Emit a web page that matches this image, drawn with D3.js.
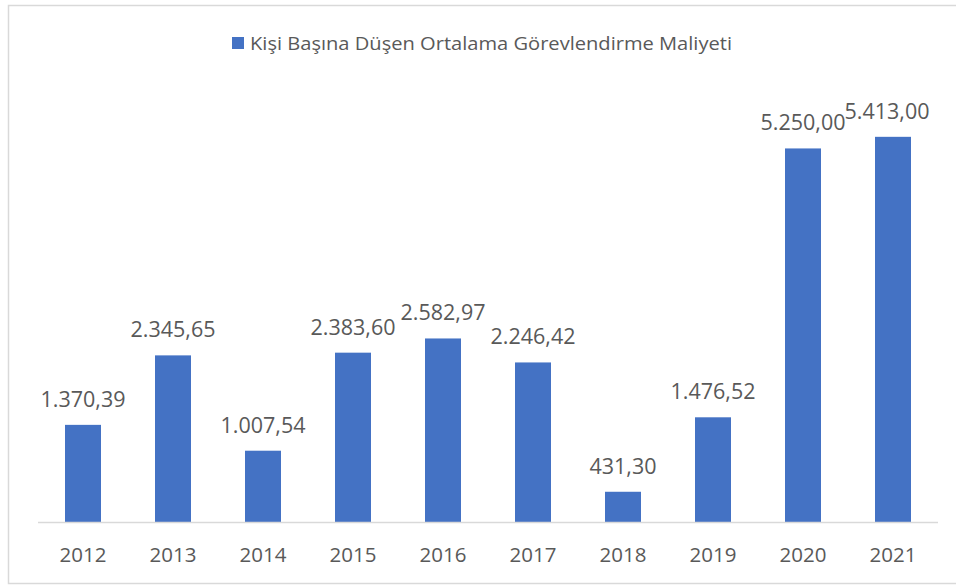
<!DOCTYPE html>
<html><head><meta charset="utf-8">
<script src="https://cdn.jsdelivr.net/npm/d3@7"></script>
<style>html,body{margin:0;padding:0;background:#fff;overflow:hidden}</style>
</head><body>
<svg id="c" width="956" height="586"></svg>
<script>
const categories = ["2012","2013","2014","2015","2016","2017","2018","2019","2020","2021"];
const values = [1370.39, 2345.65, 1007.54, 2383.60, 2582.97, 2246.42, 431.30, 1476.52, 5250.00, 5413.00];
const labels = ["1.370,39","2.345,65","1.007,54","2.383,60","2.582,97","2.246,42","431,30","1.476,52","5.250,00","5.413,00"];
const seriesName = "Kişi Başına Düşen Ortalama Görevlendirme Maliyeti";
const yDomain = [0, 6000];

const svg = d3.select("#c");
const font = "'Open Sans', 'Noto Sans', sans-serif";
const textColor = "#595959";

svg.append("rect").attr("x",8.5).attr("y",5.5).attr("width",960).attr("height",578)
  .attr("fill","#fff").attr("stroke","#D9D9D9").attr("stroke-width",1.5);

const x = d3.scaleBand().domain(categories).range([38, 938]).paddingInner(0.6).paddingOuter(0.3);
const y = d3.scaleLinear().domain(yDomain).range([522.5, 95]);

svg.selectAll("rect.bar").data(values).enter().append("rect")
  .attr("class","bar")
  .attr("x",(d,i)=>x(categories[i]))
  .attr("width",x.bandwidth())
  .attr("y",d=>y(d))
  .attr("height",d=>y(0)-y(d))
  .attr("fill","#4472C4");

const xAxis = d3.axisBottom(x).tickSize(0).tickPadding(0);
const gx = svg.append("g").attr("transform",`translate(0,${y(0)})`).call(xAxis);
gx.select(".domain").attr("stroke","#D9D9D9").attr("stroke-width",1.5).attr("d","M38,0H938");
gx.selectAll(".tick text").attr("fill",textColor).attr("font-family",font)
  .attr("font-size",20.5).attr("dy",0).attr("y",39.5);

svg.selectAll("text.lbl").data(values).enter().append("text")
  .attr("class","lbl")
  .attr("x",(d,i)=>Math.min(x(categories[i])+x.bandwidth()/2, 887))
  .attr("y",d=>y(d)-18)
  .attr("text-anchor","middle")
  .attr("fill",textColor).attr("font-family",font).attr("font-size",21.5)
  .text((d,i)=>labels[i]);

const lg = svg.append("g");
lg.append("rect").attr("x",232).attr("y",37).attr("width",12).attr("height",12).attr("fill","#4472C4");
lg.append("text").attr("x",250).attr("y",50).attr("fill",textColor).attr("font-family",font)
  .attr("font-size",18.5).attr("textLength",482).attr("lengthAdjust","spacingAndGlyphs").text(seriesName);
</script>
</body></html>
